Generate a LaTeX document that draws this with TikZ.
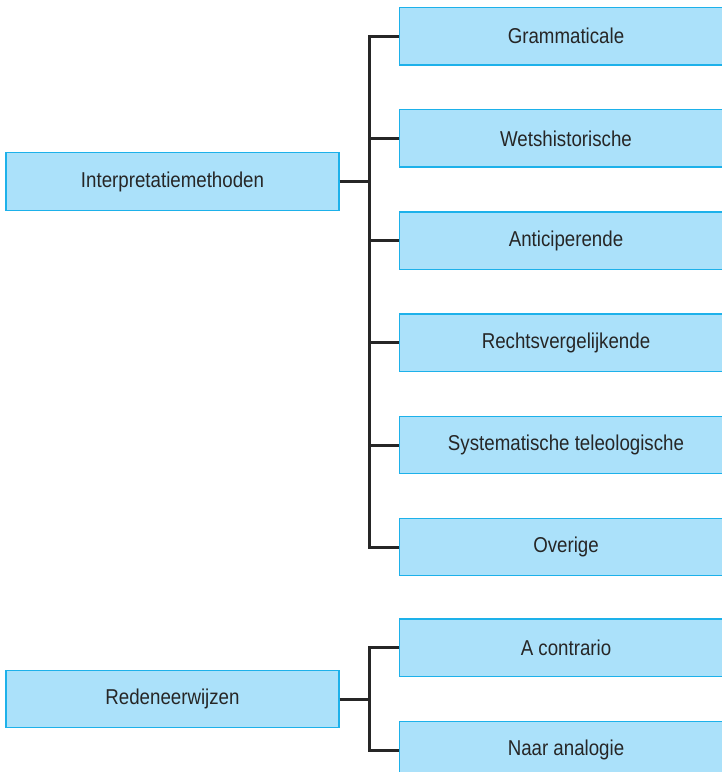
\documentclass[tikz,border=0pt]{standalone}
\usepackage{fontspec}
\setmainfont[FakeStretch=0.87]{Liberation Sans}
\definecolor{boxfill}{HTML}{ABE1FA}
\definecolor{boxline}{HTML}{1DB1EA}
\definecolor{ink}{HTML}{262626}
\tikzset{
  box/.style={draw=boxline, fill=boxfill, line width=1.4pt, minimum width=333pt, minimum height=57.5pt, inner sep=0pt, font=\fontsize{21.5}{24}\selectfont, text=ink, anchor=center},
  conn/.style={draw=ink, line width=3pt, line cap=butt, line join=miter}
}
\begin{document}
\begin{tikzpicture}[x=1pt,y=-1pt]
\useasboundingbox (0,0) rectangle (722,772);
\clip (0,0) rectangle (722,772);
\node[box] (L1) at (172.5,181.5) {Interpretatiemethoden};
\node[box] (c1) at (566,36.3) {Grammaticale};
\node[box] (c2) at (566,138.4) {Wetshistorische};
\node[box] (c3) at (566,240.6) {Anticiperende};
\node[box] (c4) at (566,342.8) {Rechtsvergelijkende};
\node[box] (c5) at (566,445) {Systematische teleologische};
\node[box] (c6) at (566,547) {Overige};
\node[box] (L2) at (172.5,699) {Redeneerwijzen};
\node[box] (d1) at (566,647.8) {A contrario};
\node[box] (d2) at (566,750) {Naar analogie};
\coordinate (j1) at (369,181.5);
\coordinate (j2) at (369,699);
\draw[conn] (L1.east) -- (j1);
\foreach \c in {c1,c2,c3,c4,c5,c6} { \draw[conn] (j1) |- (\c.west); }
\draw[conn] (L2.east) -- (j2);
\foreach \c in {d1,d2} { \draw[conn] (j2) |- (\c.west); }
\end{tikzpicture}
\end{document}
